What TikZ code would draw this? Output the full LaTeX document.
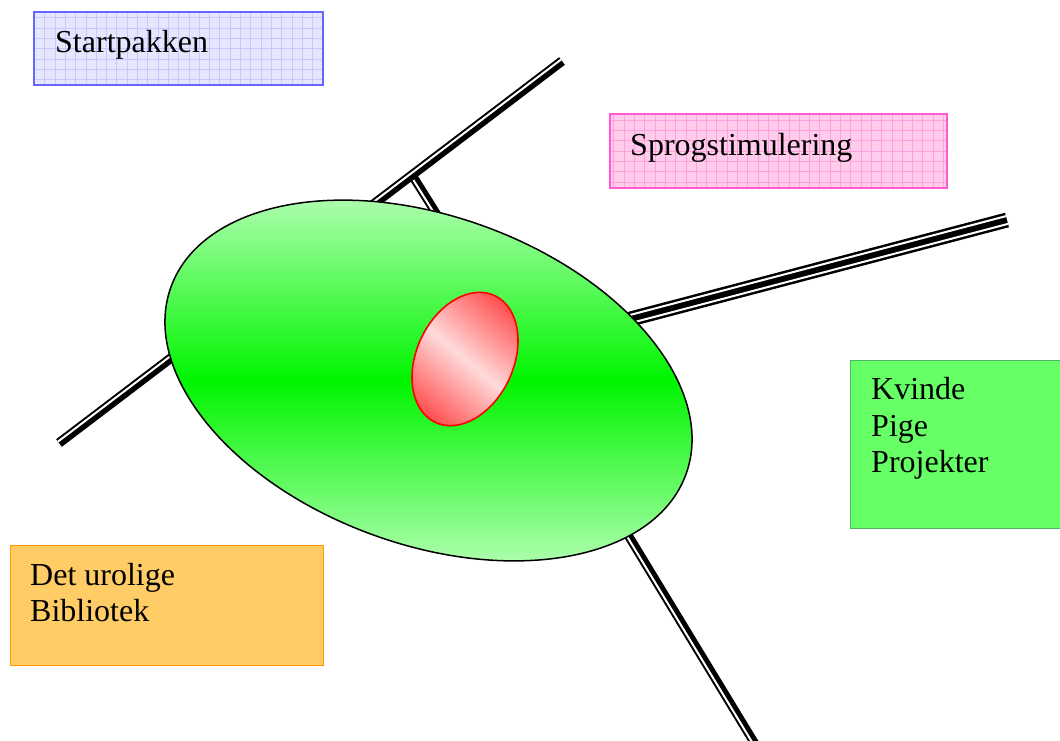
\documentclass[tikz,border=0pt]{standalone}
\usepackage{fontspec}
\setmainfont{Liberation Serif}
\usetikzlibrary{calc}

\definecolor{bluefill}{RGB}{230,230,255}
\definecolor{bluegrid}{RGB}{200,200,255}
\definecolor{blueedge}{RGB}{102,102,255}
\definecolor{pinkfill}{RGB}{255,204,236}
\definecolor{pinkgrid}{RGB}{255,160,220}
\definecolor{pinkedge}{RGB}{255,90,210}
\definecolor{greenfill}{RGB}{102,255,102}
\definecolor{greenedge}{RGB}{80,180,100}
\definecolor{orangefill}{RGB}{255,204,102}
\definecolor{orangeedge}{RGB}{255,153,0}
\definecolor{leaflight}{RGB}{196,255,196}
\definecolor{leafmid}{RGB}{0,245,0}
\definecolor{coredark}{RGB}{255,80,80}
\definecolor{corelight}{RGB}{255,218,218}

\tikzset{
  panel/.style={rectangle, inner sep=0pt, anchor=north west, line width=1pt},
  gridpanel/.style 2 args={panel, draw=#1, fill=#2},
  lbl/.style={font=\fontsize{32}{36.5}\selectfont, inner sep=0pt, anchor=base west, align=left},
  stroke/.style={line width=#1, line cap=butt, black},
  gap/.style={line width=2pt, line cap=butt, white},
}

\begin{document}
\begin{tikzpicture}[x=1pt, y=-1pt]
\useasboundingbox (0,0) rectangle (1060,740);
\clip (0,0) rectangle (1060,740);

% ---- compound rods (thin + thick) ----
% short branch under the upper rod
\coordinate (brA) at (444,226);
\coordinate (brB) at (412,175);
\draw[stroke=9pt] (brA) -- (brB);
\draw[gap] ($(brA)!1.5pt!90:(brB)$) -- ($(brB)!1.5pt!-90:(brA)$);

% upper-left rod
\coordinate (r1A) at (59,443);
\coordinate (r1B) at (562,61);
\draw[stroke=9.5pt] (r1A) -- (r1B);
\draw[gap] ($(r1A)!1.75pt!90:(r1B)$) -- ($(r1B)!1.75pt!-90:(r1A)$);

% right rod, triple line
\coordinate (r2A) at (600,327);
\coordinate (r2B) at (1007,220);
\draw[stroke=15pt] (r2A) -- (r2B);
\draw[gap] ($(r2A)!4pt!90:(r2B)$) -- ($(r2B)!4pt!-90:(r2A)$);
\draw[gap] ($(r2A)!4pt!-90:(r2B)$) -- ($(r2B)!4pt!90:(r2A)$);

% lower rod
\coordinate (r3A) at (757.4,748);
\coordinate (r3B) at (606.7,500);
\draw[stroke=9pt] (r3A) -- (r3B);
\draw[gap] ($(r3A)!1.5pt!90:(r3B)$) -- ($(r3B)!1.5pt!-90:(r3A)$);

% ---- green disc ----
\coordinate (disc) at (428.5,380.5);
\draw[line width=1.5pt, top color=leaflight, bottom color=leaflight, middle color=leafmid,
      rotate around={-20:(disc)}] (disc) ellipse [x radius=274, y radius=164];

% ---- red core ----
\coordinate (core) at (465,359);
\draw[red, line width=1.6pt, top color=coredark, bottom color=coredark, middle color=corelight,
      shading angle=-40, rotate around={-25:(core)}] (core) ellipse [x radius=48.5, y radius=70];

% ---- labelled panels ----
\node[gridpanel={blueedge}{bluefill}, minimum width=288pt, minimum height=72pt,
      path picture={\draw[bluegrid, line width=0.6pt, step=10.3pt]
        (path picture bounding box.south west) grid (path picture bounding box.north east);}]
      (start) at (34,12) {};
\node[gridpanel={pinkedge}{pinkfill}, minimum width=336pt, minimum height=73pt,
      path picture={\draw[pinkgrid, line width=0.6pt, step=10.3pt]
        (path picture bounding box.south west) grid (path picture bounding box.north east);}]
      (sprog) at (610,114) {};
\node[gridpanel={greenedge}{greenfill}, minimum width=215pt, minimum height=168pt]
      (kvinde) at (850,360) {};
\node[gridpanel={orangeedge}{orangefill}, minimum width=313pt, minimum height=120pt]
      (uro) at (10,545) {};

% redraw panel borders over the grid
\draw[blueedge, line width=1.2pt] (start.north west) rectangle (start.south east);
\draw[pinkedge, line width=1.2pt] (sprog.north west) rectangle (sprog.south east);

% labels (multi-line nodes sit on the baseline of their last line)
\node[lbl] (tStart) at (55,52) {Startpakken};
\node[lbl] (tSprog) at (630,155) {Sprogstimulering};
\node[lbl] (tKvinde) at (871,472.5) {Kvinde\\Pige\\Projekter};
\node[lbl] (tUro) at (30,621.5) {Det urolige\\Bibliotek};
\end{tikzpicture}
\end{document}
